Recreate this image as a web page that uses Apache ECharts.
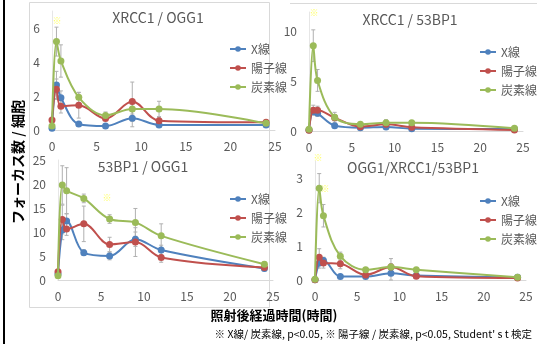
<!DOCTYPE html>
<html>
<head>
<meta charset="utf-8">
<script src="https://cdn.jsdelivr.net/npm/echarts@6/dist/echarts.min.js"></script>
<style>
html,body{margin:0;padding:0;background:#fff;}
#c{width:537px;height:344px;}
</style>
</head>
<body>
<div id="c"></div>
<script>
// ---- data ----
var times = [0, 0.5, 1, 3, 6, 9, 12, 24];
var seriesNames = ['X線', '陽子線', '炭素線'];
var panelTitles = ['XRCC1 / OGG1', 'XRCC1 / 53BP1', '53BP1 / OGG1', 'OGG1/XRCC1/53BP1'];

// XRCC1 / OGG1
var p1X = [0.1, 2.65, 1.9, 0.35, 0.23, 0.69, 0.3, 0.3];
var p1P = [0.59, 2.4, 1.4, 1.45, 0.67, 1.67, 0.55, 0.45];
var p1C = [0.23, 5.2, 4.06, 1.92, 0.86, 1.24, 1.24, 0.39];
var p1XErr = [0.05, 0.8, 0.4, 0.1, 0.1, 0.5, 0.1, 0.05];
var p1PErr = [0.1, 0.6, 0.4, 0.75, 0.1, 1.15, 0.2, 0.1];
var p1CErr = [0.1, 0.85, 0.95, 0.3, 0.2, 0.3, 0.45, 0.1];

// XRCC1 / 53BP1
var p2X = [0.1, 1.95, 1.78, 0.54, 0.34, 0.4, 0.23, 0.2];
var p2P = [0.07, 2.1, 2.1, 1.34, 0.44, 0.67, 0.37, 0.1];
var p2C = [0.17, 8.6, 5.1, 1.38, 0.67, 0.84, 0.84, 0.27];
var p2XErr = [0.05, 0.3, 0.3, 0.2, 0.1, 0.2, 0.1, 0.05];
var p2PErr = [0.05, 0.5, 0.4, 0.3, 0.1, 0.2, 0.1, 0.05];
var p2CErr = [0.1, 1.6, 1.1, 0.5, 0.2, 0.3, 0.2, 0.1];

// 53BP1 / OGG1
var p3X = [1.25, 10.4, 12.3, 5.7, 5.0, 8.5, 6.25, 2.4];
var p3P = [1.7, 12.6, 10.6, 11.7, 7.4, 7.9, 4.7, 2.6];
var p3C = [0.9, 19.8, 18.6, 17.0, 12.7, 12.0, 9.2, 3.3];
var p3XErr = [0.3, 2.0, 1.5, 0.6, 0.8, 1.5, 1.0, 0.5];
var p3PErr = [0.4, 3.0, 1.3, 3.7, 1.5, 3.0, 1.0, 0.5];
var p3CErr = [0.3, 4.0, 4.8, 0.9, 0.9, 2.9, 2.5, 0.5];

// OGG1/XRCC1/53BP1
var p4X = [0.01, 0.5, 0.57, 0.1, 0.1, 0.2, 0.13, 0.08];
var p4P = [0.01, 0.67, 0.5, 0.48, 0.15, 0.38, 0.11, 0.06];
var p4C = [0.02, 2.7, 1.89, 0.7, 0.3, 0.38, 0.3, 0.08];
var p4XErr = [0.01, 0.15, 0.1, 0.05, 0.05, 0.2, 0.05, 0.02];
var p4PErr = [0.01, 0.25, 0.15, 0.15, 0.05, 0.25, 0.05, 0.02];
var p4CErr = [0.02, 0.43, 0.33, 0.12, 0.05, 0.1, 0.05, 0.02];

var yMax = [7, 12, 25, 3.5];
var yInterval = [2, 5, 5, 1];

// ---- build ----
var panels = [
  {vals: [p1X, p1P, p1C], errs: [p1XErr, p1PErr, p1CErr]},
  {vals: [p2X, p2P, p2C], errs: [p2XErr, p2PErr, p2CErr]},
  {vals: [p3X, p3P, p3C], errs: [p3XErr, p3PErr, p3CErr]},
  {vals: [p4X, p4P, p4C], errs: [p4XErr, p4PErr, p4CErr]}
];
var colors = ['#4F81BD', '#C0504D', '#9BBB59'];
var FONT = '"Noto Sans CJK JP", "Noto Sans", sans-serif';

var grids = [
  {left: 52, top: 11, width: 223, height: 119},
  {left: 309, top: 12, width: 214, height: 119},
  {left: 58, top: 160, width: 215, height: 120},
  {left: 315, top: 161, width: 211, height: 119}
];
var legendPos = [
  {left: 224, top: 38},
  {left: 474, top: 41},
  {left: 224, top: 188},
  {left: 474, top: 190}
];
var titlePos = [
  {x: 158, y: 18}, {x: 410, y: 20}, {x: 143, y: 167}, {x: 413, y: 168}
];

var xAxes = [], yAxes = [], series = [], legends = [], graphics = [];
grids.forEach(function (g, k) {
  xAxes.push({
    type: 'value', gridIndex: k, min: 0, max: 25, interval: 5,
    axisLine: {show: true, lineStyle: {color: '#d9d9d9'}},
    axisTick: {show: false}, splitLine: {show: false},
    axisLabel: {color: '#595959', fontSize: 12, fontFamily: FONT, margin: 10}
  });
  yAxes.push({
    type: 'value', gridIndex: k, min: 0, max: yMax[k], interval: yInterval[k],
    axisLine: {show: true, lineStyle: {color: '#e6e6e6'}},
    axisTick: {show: false}, splitLine: {show: false},
    axisLabel: {color: '#595959', fontSize: 12, fontFamily: FONT, margin: 12, showMaxLabel: (yMax[k] % yInterval[k] === 0)}
  });
  legends.push({
    left: legendPos[k].left, top: legendPos[k].top, orient: 'vertical',
    itemGap: 7, itemWidth: 16, itemHeight: 7,
    textStyle: {color: '#595959', fontSize: 12, fontFamily: FONT},
    data: seriesNames
  });
  graphics.push({
    type: 'text', x: titlePos[k].x, y: titlePos[k].y,
    style: {text: panelTitles[k], fill: '#595959', font: '14px ' + FONT, textAlign: 'center', textVerticalAlign: 'middle'}
  });
  var p = panels[k];
  for (var s = 0; s < 3; s++) {
    (function (s) {
      var errData = times.map(function (t, i) {
        return [t, p.vals[s][i] - p.errs[s][i], p.vals[s][i] + p.errs[s][i]];
      });
      series.push({
        type: 'custom', xAxisIndex: k, yAxisIndex: k, z: 1, silent: true,
        clip: false,
        renderItem: function (params, api) {
          var lo = api.coord([api.value(0), Math.max(0, api.value(1))]);
          var hi = api.coord([api.value(0), api.value(2)]);
          var c = 2;
          var st = {stroke: '#b0b0b0', lineWidth: 1};
          return {type: 'group', children: [
            {type: 'line', shape: {x1: hi[0], y1: hi[1], x2: lo[0], y2: lo[1]}, style: st},
            {type: 'line', shape: {x1: hi[0] - c, y1: hi[1], x2: hi[0] + c, y2: hi[1]}, style: st},
            {type: 'line', shape: {x1: lo[0] - c, y1: lo[1], x2: lo[0] + c, y2: lo[1]}, style: st}
          ]};
        },
        encode: {x: 0, y: [1, 2]},
        data: errData
      });
      series.push({
        name: seriesNames[s], type: 'line', xAxisIndex: k, yAxisIndex: k, z: 2 + s,
        smooth: 0.35, symbol: 'circle', symbolSize: 7,
        lineStyle: {color: colors[s], width: 2},
        itemStyle: {color: colors[s]},
        data: times.map(function (t, i) { return [t, p.vals[s][i]]; })
      });
    })(s);
  }
});

// frames, axis titles, annotations
graphics.push(
  {type: 'rect', shape: {x: 29.5, y: 2.5, width: 240, height: 305}, style: {fill: 'none', stroke: '#d9d9d9', lineWidth: 1}, z: -1},
  {type: 'line', shape: {x1: 290, y1: 3.5, x2: 537, y2: 3.5}, style: {stroke: '#d9d9d9', lineWidth: 1}, z: -1},
  {type: 'rect', shape: {x: 3, y: 0, width: 2, height: 344}, style: {fill: '#000'}},
  {type: 'text', x: 18, y: 162, rotation: Math.PI / 2,
    style: {text: 'フォーカス数 / 細胞', fill: '#000', font: 'bold 14px ' + FONT, textAlign: 'center', textVerticalAlign: 'middle'}},
  {type: 'text', x: 274, y: 315,
    style: {text: '照射後経過時間(時間)', fill: '#000', font: 'bold 13px ' + FONT, textAlign: 'center', textVerticalAlign: 'middle'}},
  {type: 'text', x: 532, y: 334,
    style: {text: '※ X線/ 炭素線, p<0.05, ※ 陽子線 / 炭素線, p<0.05, Student\' s t 検定', fill: '#000', font: '10.5px ' + FONT, textAlign: 'right', textVerticalAlign: 'middle'}},
  {type: 'text', x: 57, y: 21, style: {text: '※', fill: '#ffff66', font: '9px ' + FONT, textAlign: 'center', textVerticalAlign: 'middle'}},
  {type: 'text', x: 314, y: 13, style: {text: '※', fill: '#ffff66', font: '9px ' + FONT, textAlign: 'center', textVerticalAlign: 'middle'}},
  {type: 'text', x: 107, y: 198, style: {text: '※', fill: '#ffff66', font: '9px ' + FONT, textAlign: 'center', textVerticalAlign: 'middle'}},
  {type: 'text', x: 318, y: 158, style: {text: '※', fill: '#ffff66', font: '9px ' + FONT, textAlign: 'center', textVerticalAlign: 'middle'}},
  {type: 'text', x: 325, y: 189, style: {text: '※', fill: '#ffff66', font: '9px ' + FONT, textAlign: 'center', textVerticalAlign: 'middle'}}
);

var chart = echarts.init(document.getElementById('c'), null, {renderer: 'canvas'});
chart.setOption({
  animation: false,
  backgroundColor: '#fff',
  textStyle: {fontFamily: FONT},
  grid: grids,
  xAxis: xAxes,
  yAxis: yAxes,
  legend: legends,
  series: series,
  graphic: graphics
});
</script>
</body>
</html>
